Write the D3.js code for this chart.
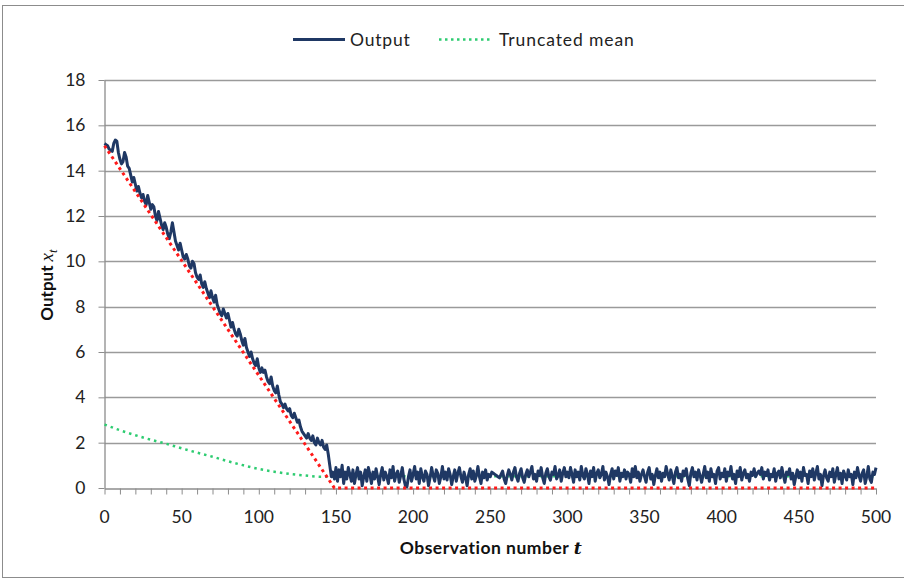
<!DOCTYPE html>
<html><head><meta charset="utf-8">
<script src="https://cdn.jsdelivr.net/npm/d3@7"></script>
<style>
body{margin:0;background:#fff;}
text{font-family:Lato,"Noto Sans",sans-serif;}
</style></head>
<body><svg id="c" width="904" height="580"></svg>
<script>
// ---- data ----
const seriesNames = ["Output", "Truncated mean"];
const xTicks = [0,50,100,150,200,250,300,350,400,450,500];
const yTicks = [0,2,4,6,8,10,12,14,16,18];
// Output x_t, one value per observation t = 0..500
const outputValues = [
15.2,15.15,15.1,14.95,14.9,14.85,15.2,15.35,15.3,14.8,
14.5,14.3,14.4,14.8,14.6,14.2,14.1,13.8,13.5,13.7,
13.4,13.1,13.3,13.0,12.8,12.95,12.65,12.5,12.9,12.6,
12.3,12.5,12.4,12.0,11.8,12.2,11.9,11.6,11.4,11.7,
11.5,11.2,11.0,11.3,11.7,11.3,10.9,10.7,10.5,10.8,
10.5,10.2,10.1,10.3,10.1,9.8,9.7,10.0,9.9,9.5,
9.3,9.2,9.4,9.0,8.85,9.1,8.8,8.6,8.4,8.7,
8.4,8.2,8.5,8.1,7.9,7.7,7.6,7.9,7.7,7.5,
7.7,7.4,7.1,7.3,7.0,6.8,6.7,7.0,6.8,6.5,
6.3,6.6,6.2,6.0,5.8,6.0,5.7,5.5,5.4,5.7,
5.3,5.1,5.3,5.1,5.2,4.9,4.7,4.6,4.9,4.5,
4.3,4.2,4.5,4.1,3.8,3.7,3.55,3.7,3.5,3.4,
3.5,3.2,3.1,3.3,3.1,2.9,3.0,2.7,2.5,2.4,
2.3,2.2,2.4,2.2,2.1,2.3,2.0,1.9,2.2,2.0,
1.9,2.1,1.8,1.7,1.9,1.5,1.0,0.5,0.7,0.4,
0.9,0.3,0.8,0.5,1.0,0.2,0.7,0.4,0.9,0.6,
0.3,0.8,0.2,0.6,0.9,0.4,0.7,0.1,0.5,0.8,
0.3,0.9,0.6,0.2,0.7,0.4,0.85,0.5,0.15,0.6,
0.9,0.35,0.7,0.5,0.2,0.8,0.45,0.95,0.3,0.6,
0.75,0.25,0.55,0.9,0.4,0.1,0.05,0.5,0.8,0.3,
0.6,0.95,0.4,0.7,0.2,0.85,0.5,0.3,0.75,0.6,
0.1,0.45,0.9,0.55,0.3,0.8,0.65,0.2,0.5,0.95,
0.4,0.7,0.35,0.85,0.6,0.15,0.5,0.8,0.3,0.65,
0.9,0.5,0.25,0.7,0.45,0.1,0.6,0.85,0.4,0.75,
0.3,0.55,0.95,0.5,0.2,0.7,0.45,0.8,0.35,0.6,
0.5,0.7,0.65,0.6,0.55,0.5,0.45,0.6,0.75,0.4,
0.2,0.55,0.8,0.6,0.35,0.7,0.9,0.5,0.3,0.65,
0.85,0.45,0.25,0.6,0.8,0.5,0.7,0.95,0.4,0.6,
0.3,0.75,0.55,0.9,0.45,0.2,0.65,0.85,0.5,0.35,
0.7,0.6,0.95,0.4,0.55,0.8,0.3,0.65,0.9,0.5,
0.7,0.45,0.9,0.6,0.25,0.8,0.5,0.7,0.35,0.95,
0.55,0.4,0.85,0.6,0.2,0.75,0.5,0.9,0.3,0.65,
0.8,0.45,0.6,0.95,0.35,0.7,0.5,0.15,0.6,0.85,
0.4,0.75,0.55,0.9,0.3,0.65,0.5,0.8,0.4,0.7,
0.6,0.25,0.85,0.5,0.95,0.45,0.7,0.3,0.6,0.8,
0.5,0.25,0.7,0.9,0.4,0.6,0.15,0.55,0.85,0.45,
0.7,0.3,0.65,0.5,0.95,0.6,0.35,0.8,0.5,0.2,
0.7,0.9,0.45,0.6,0.3,0.75,0.55,0.85,0.4,0.1,
0.65,0.9,0.5,0.7,0.35,0.8,0.55,0.25,0.6,0.95,
0.45,0.7,0.3,0.85,0.5,0.6,0.2,0.75,0.9,0.4,
0.65,0.5,0.85,0.3,0.7,0.55,0.95,0.4,0.6,0.2,
0.75,0.5,0.9,0.35,0.65,0.8,0.45,0.6,0.3,0.7,
0.55,0.85,0.5,0.65,0.75,0.6,0.9,0.4,0.7,0.55,
0.8,0.35,0.6,0.5,0.85,0.3,0.65,0.75,0.45,0.9,
0.55,0.25,0.7,0.6,0.85,0.4,0.65,0.15,0.5,0.8,
0.45,0.7,0.3,0.9,0.55,0.6,0.2,0.75,0.5,0.85,
0.35,0.65,0.95,0.4,0.6,0.1,0.55,0.8,0.45,0.3,
0.7,0.5,0.85,0.25,0.6,0.9,0.4,0.65,0.2,0.75,
0.55,0.35,0.8,0.5,0.6,0.15,0.7,0.45,0.9,0.55,
0.3,0.65,0.8,0.2,0.5,0.95,0.4,0.25,0.7,0.6,
0.9
];
// Truncated mean, sampled every 10 observations
const meanT = [0,10,20,30,40,50,60,70,80,90,100,110,120,130,140,150,200,250,300,350,400,450,500];
const meanValues = [2.8,2.55,2.33,2.13,1.95,1.75,1.56,1.38,1.18,1.0,0.84,0.72,0.62,0.55,0.5,0.5,0.52,0.52,0.52,0.52,0.52,0.52,0.52];
// Red dotted reference (no legend entry)
const refT = [0,149,500];
const refValues = [15.1,0,0];

// ---- chart ----
const svg = d3.select("#c");
svg.append("rect").attr("x",2.5).attr("y",5.5).attr("width",960).attr("height",572)
  .attr("fill","none").attr("stroke","#8c8c8c").attr("stroke-width",1);

const x = d3.scaleLinear().domain([0,500]).range([104.5,876]);
const y = d3.scaleLinear().domain([0,18]).range([488,80]);

const grid = svg.append("g");
grid.selectAll("line").data(yTicks.filter(d=>d>0)).join("line")
  .attr("x1",x(0)).attr("x2",x(500)).attr("y1",d=>Math.round(y(d))+0.5).attr("y2",d=>Math.round(y(d))+0.5)
  .attr("stroke","#9a9a9a").attr("stroke-width",1.3);

const xAxis = d3.axisBottom(x).tickValues(d3.range(0,501,10)).tickFormat("").tickSize(6).tickSizeOuter(0);
const gx = svg.append("g").attr("transform",`translate(0,${y(0)+0.5})`).call(xAxis);
gx.select(".domain").attr("stroke","#8c8c8c").attr("stroke-width",1.3);
gx.selectAll(".tick line").attr("stroke","#8c8c8c");
svg.append("g").selectAll("text").data(xTicks).join("text")
  .attr("x",d=>x(d)).attr("y",523).attr("text-anchor","middle")
  .attr("font-size",17.5).attr("fill","#222").text(d=>d);

const yAxis = d3.axisLeft(y).tickValues(yTicks).tickFormat(d=>d).tickSize(6).tickSizeOuter(0).tickPadding(13);
const gy = svg.append("g").attr("transform",`translate(${x(0)},0)`).call(yAxis);
gy.select(".domain").attr("stroke","#8c8c8c").attr("stroke-width",1.3);
gy.selectAll(".tick line").attr("stroke","#8c8c8c");
gy.selectAll(".tick text").attr("font-size",17.5).attr("fill","#222").attr("font-family","Lato, 'Noto Sans', sans-serif");

// lines
const line = d3.line().x(d=>x(d[0])).y(d=>y(d[1]));
svg.append("path").datum(meanT.map((t,i)=>[t,meanValues[i]]))
  .attr("d",line.curve(d3.curveMonotoneX)).attr("fill","none")
  .attr("stroke","#2ecc71").attr("stroke-width",2.5).attr("stroke-dasharray","2.5,4");
svg.append("path").datum(outputValues.map((v,i)=>[i,v]))
  .attr("d",d3.line().x(d=>x(d[0])).y(d=>y(d[1]))).attr("fill","none")
  .attr("stroke","#1f3864").attr("stroke-width",3).attr("stroke-linejoin","round");
svg.append("path").datum(refT.map((t,i)=>[t,refValues[i]]))
  .attr("d",d3.line().x(d=>x(d[0])).y(d=>y(d[1]))).attr("fill","none")
  .attr("stroke","#ff1a1a").attr("stroke-width",3).attr("stroke-dasharray","3,3.5");

// legend
const lg = svg.append("g");
lg.append("line").attr("x1",293).attr("x2",345).attr("y1",39.5).attr("y2",39.5)
  .attr("stroke","#1f3864").attr("stroke-width",3);
lg.append("text").attr("x",350).attr("y",46).attr("font-size",17.5).attr("letter-spacing",0.8).attr("fill","#222").text(seriesNames[0]);
lg.append("line").attr("x1",439).attr("x2",493).attr("y1",39.5).attr("y2",39.5)
  .attr("stroke","#2ecc71").attr("stroke-width",2.5).attr("stroke-dasharray","2.5,3.5");
lg.append("text").attr("x",499).attr("y",46).attr("font-size",17.5).attr("letter-spacing",0.9).attr("fill","#222").text(seriesNames[1]);

// axis titles
const xt = svg.append("text").attr("x",491).attr("y",554).attr("text-anchor","middle")
  .attr("font-size",17.5).attr("font-weight","bold").attr("letter-spacing",0.5).attr("fill","#111");
xt.append("tspan").text("Observation number ");
xt.append("tspan").attr("font-family","'DejaVu Serif',serif").attr("font-style","italic").text("t");

const yt = svg.append("text").attr("transform","translate(53,285) rotate(-90)").attr("text-anchor","middle")
  .attr("font-size",17).attr("font-weight","bold").attr("fill","#111");
yt.append("tspan").text("Output ");
yt.append("tspan").attr("font-family","'Liberation Serif',serif").attr("font-style","italic").attr("font-weight","normal").attr("font-size",19).text("x");
yt.append("tspan").attr("font-family","'Liberation Serif',serif").attr("font-style","italic").attr("font-weight","normal").attr("font-size",13).attr("dy",4).text("t");
</script></body></html>
